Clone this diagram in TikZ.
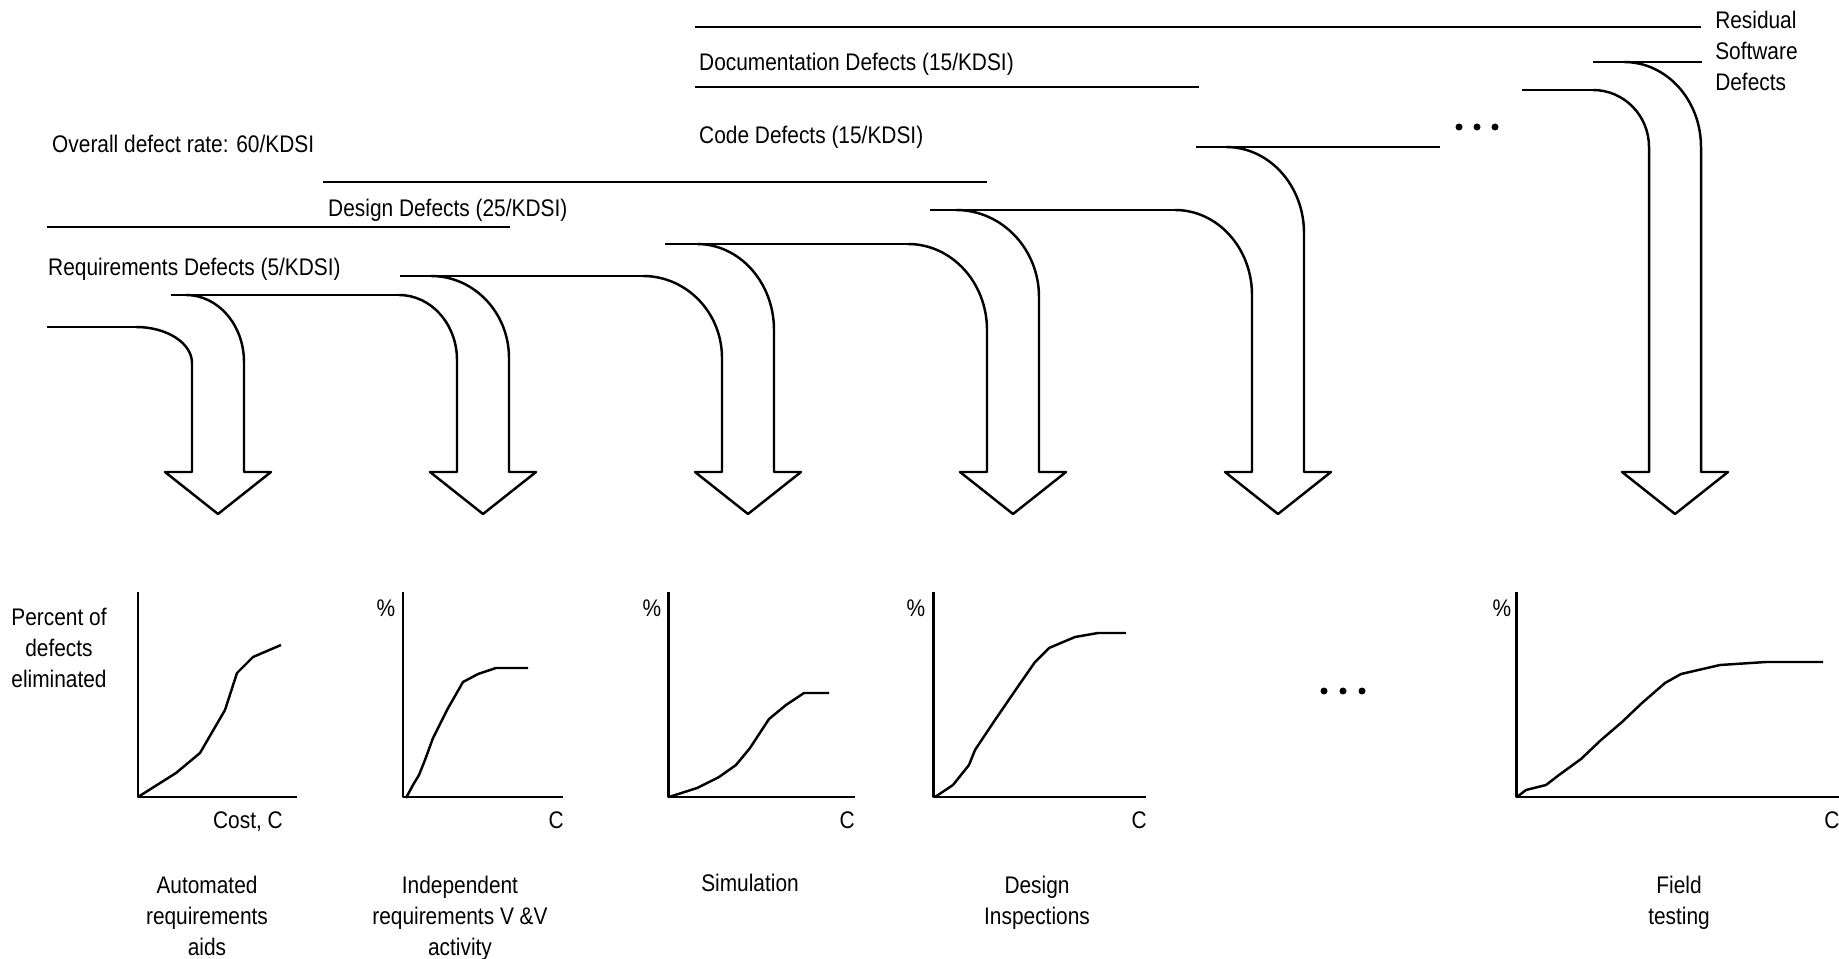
\documentclass[tikz,border=0pt]{standalone}
\usepackage{fontspec}
\setmainfont{Liberation Sans}[FakeStretch=0.87]
\begin{document}
\begin{tikzpicture}[line width=0.7pt, line join=round,
  lbl/.style={inner sep=0pt,font=\fontsize{6.83pt}{8.8pt}\selectfont},
  axis/.style={line width=0.85pt}]
\useasboundingbox (0,0) rectangle (18.39,9.58);

% defect flow lines
\foreach \y/\a/\b in {9.31/6.95/17.01, 8.71/6.95/11.99, 7.76/3.23/9.87, 7.31/0.47/5.10,
  6.31/0.47/1.36, 6.63/1.71/3.99, 6.82/4.00/6.43, 7.14/6.65/9.08,
  7.48/9.30/11.75, 8.11/11.96/14.40, 8.68/15.22/15.93, 8.96/15.93/17.02}
  \draw (\a,\y)--(\b,\y);

% bent arrows
\foreach \c/\ly/\la/\lb/\ry/\ra/\rb in {2.18/6.31/0.56/0.36/6.63/0.58/0.67,
  4.83/6.63/0.58/0.65/6.82/0.78/0.82, 7.48/6.82/0.79/0.82/7.14/0.77/0.86,
  10.13/7.14/0.79/0.86/7.48/0.83/0.87, 12.78/7.48/0.77/0.85/8.11/0.78/0.86,
  16.75/8.68/0.56/0.57/8.96/0.77/0.85}
  \draw ({\c-0.26-\la},\ly) arc (90:0:\la cm and \lb cm) -- ({\c-0.26},4.86)
    -- ({\c-0.53},4.86) -- (\c,4.44) -- ({\c+0.53},4.86) -- ({\c+0.26},4.86)
    -- ({\c+0.26},{\ry-\rb}) arc (0:90:\ra cm and \rb cm);

\node[lbl,anchor=base west] (overall) at (0.51,8.05) {Overall defect rate: 60/KDSI};
\node[lbl,anchor=base west] (reqdef) at (0.47,6.82) {Requirements Defects (5/KDSI)};
\node[lbl,anchor=base west] (desdef) at (3.27,7.41) {Design Defects (25/KDSI)};
\node[lbl,anchor=base west] (codedef) at (6.98,8.14) {Code Defects (15/KDSI)};
\node[lbl,anchor=base west] (docdef) at (6.98,8.87) {Documentation Defects (15/KDSI)};
\node[lbl,anchor=north west,align=left] (resid) at (17.14,9.48) {Residual\\Software\\Defects};

\foreach \x in {14.59,14.77,14.95} \fill (\x,8.31) circle (0.035);
\foreach \x in {13.24,13.43,13.62} \fill (\x,2.67) circle (0.035);

% cost curves
\foreach \ox/\ex in {1.38/2.97, 4.03/5.63, 6.68/8.55, 9.33/11.46, 15.16/18.45}
  \draw[axis] (\ox,3.66) |- (\ex,1.61);
\draw (1.38,1.61)--(1.76,1.85)--(2.00,2.05)--(2.25,2.48)--(2.37,2.85)--(2.53,3.01)--(2.81,3.13);
\draw (4.06,1.60)--(4.13,1.73)--(4.19,1.83)--(4.25,1.98)--(4.33,2.20)--(4.47,2.48)--(4.63,2.76)--(4.78,2.84)--(4.96,2.90)--(5.28,2.90);
\draw (6.69,1.61)--(6.97,1.70)--(7.19,1.81)--(7.36,1.93)--(7.50,2.10)--(7.69,2.39)--(7.86,2.53)--(8.04,2.65)--(8.29,2.65);
\draw (9.35,1.61)--(9.53,1.73)--(9.69,1.93)--(9.75,2.08)--(9.95,2.38)--(10.19,2.73)--(10.35,2.96)--(10.49,3.10)--(10.75,3.21)--(10.98,3.25)--(11.26,3.25);
\draw (15.17,1.61)--(15.26,1.68)--(15.46,1.73)--(15.59,1.83)--(15.81,1.99)--(16.01,2.18)--(16.22,2.36)--(16.42,2.55)--(16.65,2.75)--(16.81,2.84)--(17.20,2.93)--(17.66,2.96)--(18.23,2.96);

\node[lbl,align=center,anchor=north] (ylab) at (0.59,3.51) {Percent of\\defects\\eliminated};
\foreach \x [count=\i] in {3.86,6.52,9.16,15.02} \node[lbl,anchor=base] (pct\i) at (\x,3.41) {\%};
\node[lbl,anchor=base east] (cost) at (2.84,1.30) {Cost, C};
\foreach \x [count=\i] in {5.65,8.56,11.48} \node[lbl,anchor=base east] (c\i) at (\x,1.30) {C};
\node[lbl,anchor=base west] (c4) at (18.23,1.30) {C};

\node[lbl,align=center,anchor=north] (autoreq) at (2.07,0.83) {Automated\\requirements\\aids};
\node[lbl,align=center,anchor=north] (indvv) at (4.60,0.83) {Independent\\requirements V \&V\\activity};
\node[lbl,anchor=base] (sim) at (7.50,0.67) {Simulation};
\node[lbl,align=center,anchor=north] (desinsp) at (10.37,0.83) {Design\\Inspections};
\node[lbl,align=center,anchor=north] (field) at (16.79,0.83) {Field\\testing};
\end{tikzpicture}
\end{document}
